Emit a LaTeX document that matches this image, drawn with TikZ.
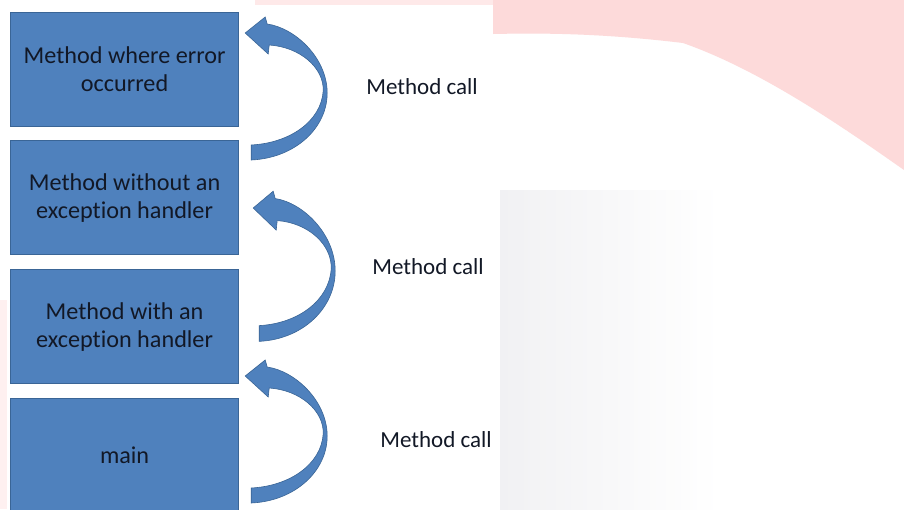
\documentclass[tikz,border=0pt]{standalone}
\usepackage{fontspec}
\setmainfont{Carlito}[Ligatures={NoCommon,NoRare,NoContextual}]
\usetikzlibrary{calc}
\definecolor{boxblue}{HTML}{4F81BD}
\definecolor{boxedge}{HTML}{3A6596}
\definecolor{inktext}{HTML}{121826}
\definecolor{wmpink}{HTML}{FDDADA}
\definecolor{wmgray}{HTML}{F1F1F3}
\tikzset{
  methodbox/.style={draw=boxedge, line width=1.2pt, fill=boxblue,
    minimum width=228pt, minimum height=114pt, inner sep=0pt,
    align=center, text=inktext, font=\fontsize{24.2}{28}\selectfont,
    anchor=north west},
  calllabel/.style={text=inktext, font=\fontsize{23}{27}\selectfont,
    inner sep=0pt, anchor=base},
  callarrow/.style={fill=boxblue, draw=boxedge, line width=0.6pt},
  callarrowpic/.pic={
    \path[callarrow] (0,0) -- (20,-16) -- (22,-9)
      .. controls (50,-5) and (82,25) .. (82,60)
      .. controls (82,95) and (50,125) .. (6,127)
      -- (6,112)
      .. controls (45,110) and (76,88) .. (78,58)
      .. controls (79,35) and (55,14) .. (24,12)
      -- (23,21) -- cycle;
  }
}
\begin{document}
\begin{tikzpicture}[x=1pt,y=-1pt]
\useasboundingbox (0,0) rectangle (904,509);
\fill[white] (0,0) rectangle (904,509);
% faint watermark
\fill[wmpink] (493,0) -- (904,0) -- (904,170)
  .. controls (840,125) and (760,70) .. (683,43)
  .. controls (600,33) and (540,33) .. (493,34) -- cycle;
\fill[wmpink!60] (255,0) rectangle (493,5);
\shade[left color=wmgray, right color=white] (500,190) rectangle (720,509);
\fill[wmpink!40] (0,300) rectangle (7,509);

% boxes
\node[methodbox] (b1) at (10,12) {Method where error\\occurred};
\node[methodbox] (b2) at (10,140) {Method without an\\exception handler};
\node[methodbox] (b3) at (10,269) {Method with an\\exception handler};
\node[methodbox] (b4) at (10,398) {main};

% curved call arrows
\coordinate (t1) at ($(b1.north east)+(6,21)$);
\coordinate (t2) at ($(b2.north east)+(14,68)$);
\coordinate (t3) at ($(b4.north east)+(6,-22)$);
\pic at (t1) {callarrowpic};
\pic[yscale=1.05] at (t2) {callarrowpic};
\pic at (t3) {callarrowpic};

% labels
\node[calllabel] (l1) at (422,94) {Method call};
\node[calllabel] (l2) at (428,274) {Method call};
\node[calllabel] (l3) at (436,447) {Method call};
\end{tikzpicture}
\end{document}
